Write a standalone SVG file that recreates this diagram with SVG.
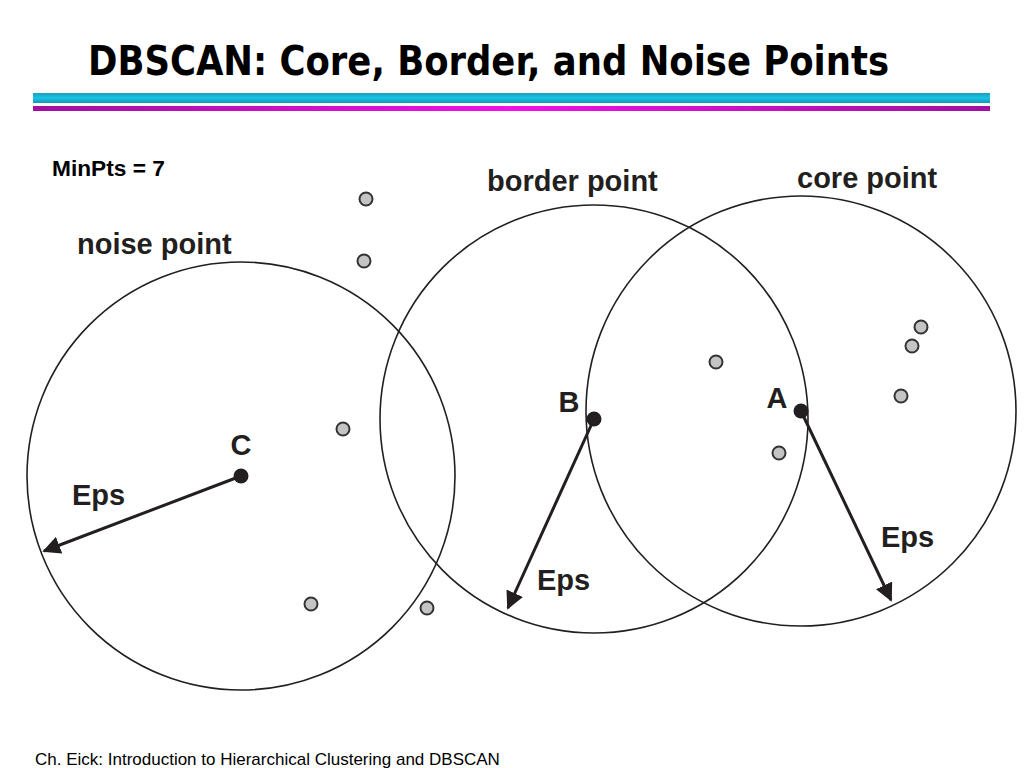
<svg xmlns="http://www.w3.org/2000/svg" width="1024" height="768" viewBox="0 0 1024 768">
<defs>
<style>
.t{font-family:"Liberation Sans",Arial,sans-serif;font-weight:bold;fill:#231f20}
.lbl{font-size:29px}
.big{font-size:29px}
.ring{fill:none;stroke:#231f20;stroke-width:1.6}
.gp{fill:#c4c4c4;stroke:#333;stroke-width:2}
.bp{fill:#231f20}
.ar{stroke:#231f20;stroke-width:3;fill:none;marker-end:url(#ah)}
</style>
<marker id="ah" viewBox="0 0 10 10" refX="9" refY="5" markerWidth="6" markerHeight="6" markerUnits="strokeWidth" orient="auto">
<path d="M0,0 L10,5 L0,10 z" fill="#231f20"/>
</marker>
<linearGradient id="cy" x1="0" y1="0" x2="0" y2="1">
<stop offset="0" stop-color="#1a9fbf"/>
<stop offset="0.5" stop-color="#19c4e6"/>
<stop offset="1" stop-color="#1497b5"/>
</linearGradient>
<linearGradient id="mg" x1="0" y1="0" x2="1" y2="0">
<stop offset="0" stop-color="#a010a0"/>
<stop offset="0.5" stop-color="#f010e8"/>
<stop offset="1" stop-color="#a010a0"/>
</linearGradient>
</defs>
<rect width="1024" height="768" fill="#fff"/>
<g id="title">
<text x="88" y="75" textLength="801" lengthAdjust="spacingAndGlyphs" style="font-family:'DejaVu Sans Condensed','DejaVu Sans',sans-serif;font-weight:bold;font-size:41px;fill:#000">DBSCAN: Core, Border, and Noise Points</text>
<rect x="33" y="93" width="957" height="10" fill="url(#cy)"/>
<rect x="33" y="106" width="957" height="5" fill="url(#mg)"/>
</g>
<text class="t" x="52" y="176" textLength="113" lengthAdjust="spacingAndGlyphs" style="font-size:22px;fill:#000">MinPts = 7</text>
<g id="circle-C"><circle class="ring" cx="241" cy="476" r="214"/></g>
<g id="circle-B"><circle class="ring" cx="594" cy="419" r="214"/></g>
<g id="circle-A"><circle class="ring" cx="801" cy="411" r="215"/></g>
<g id="labels">
<text class="t lbl" x="77" y="254">noise point</text>
<text class="t lbl" x="487" y="191">border point</text>
<text class="t lbl" x="797" y="188">core point</text>
</g>
<g id="connectors">
<line class="ar" x1="241" y1="476" x2="44" y2="551"/>
<line class="ar" x1="594" y1="419" x2="508" y2="608"/>
<line class="ar" x1="801" y1="411" x2="891" y2="600"/>
</g>
<g id="node-C"><circle class="bp" cx="241" cy="476" r="7.5"/><text class="t big" x="241" y="455" text-anchor="middle">C</text></g>
<g id="node-B"><circle class="bp" cx="594" cy="419" r="7.5"/><text class="t big" x="569" y="412" text-anchor="middle">B</text></g>
<g id="node-A"><circle class="bp" cx="801" cy="411" r="7.5"/><text class="t big" x="777" y="408" text-anchor="middle">A</text></g>
<g id="eps-labels">
<text class="t lbl" x="72" y="505">Eps</text>
<text class="t lbl" x="537" y="590">Eps</text>
<text class="t lbl" x="881" y="547">Eps</text>
</g>
<g id="points">
<circle class="gp" cx="366" cy="199" r="6.5"/>
<circle class="gp" cx="364" cy="261" r="6.5"/>
<circle class="gp" cx="343" cy="429" r="6.5"/>
<circle class="gp" cx="311" cy="604" r="6.5"/>
<circle class="gp" cx="427" cy="608" r="6.5"/>
<circle class="gp" cx="716" cy="362" r="6.5"/>
<circle class="gp" cx="779" cy="453" r="6.5"/>
<circle class="gp" cx="921" cy="327" r="6.5"/>
<circle class="gp" cx="912" cy="346" r="6.5"/>
<circle class="gp" cx="901" cy="396" r="6.5"/>
</g>
<text x="35" y="765" style="font-family:'Liberation Sans',Arial,sans-serif;font-size:17px;fill:#000">Ch. Eick: Introduction to Hierarchical Clustering and DBSCAN</text>
</svg>
